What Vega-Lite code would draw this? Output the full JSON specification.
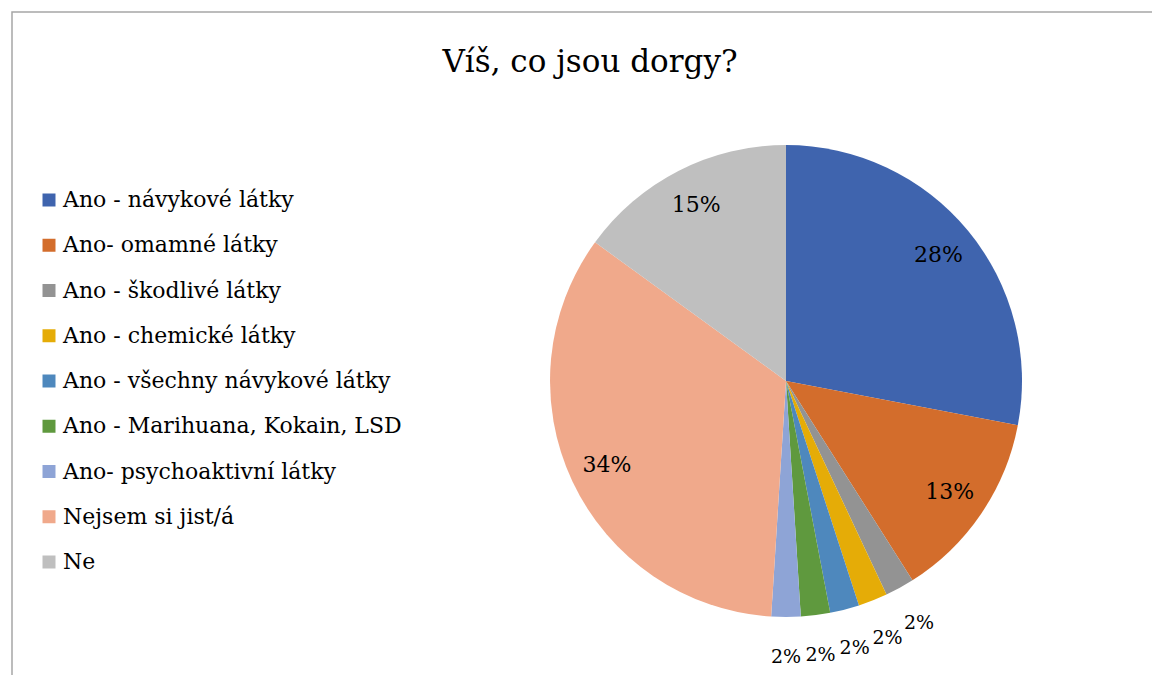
{
  "$schema": "https://vega.github.io/schema/vega-lite/v6.json",
  "autosize": "none",
  "width": 1548,
  "height": 738,
  "padding": {"left": 12, "top": 12, "right": 0, "bottom": 0},
  "background": "white",
  "view": {"stroke": "#A6A6A6", "strokeWidth": 1.5, "fill": "white"},
  "config": {
    "font": "DejaVu Serif"
  },
  "title": {
    "text": "Víš, co jsou dorgy?",
    "font": "DejaVu Serif",
    "fontSize": 31,
    "fontWeight": "normal",
    "color": "#000000",
    "anchor": "middle",
    "frame": "group",
    "dx": -196,
    "dy": 71
  },
  "data": {
    "values": [
      {"idx": 1, "label": "Ano - návykové látky", "value": 28, "pct": "28%"},
      {"idx": 2, "label": "Ano- omamné látky", "value": 13, "pct": "13%"},
      {"idx": 3, "label": "Ano - škodlivé látky", "value": 2, "pct": "2%"},
      {"idx": 4, "label": "Ano - chemické látky", "value": 2, "pct": "2%"},
      {"idx": 5, "label": "Ano - všechny návykové látky", "value": 2, "pct": "2%"},
      {"idx": 6, "label": "Ano - Marihuana, Kokain, LSD", "value": 2, "pct": "2%"},
      {"idx": 7, "label": "Ano- psychoaktivní látky", "value": 2, "pct": "2%"},
      {"idx": 8, "label": "Nejsem si jist/á", "value": 34, "pct": "34%"},
      {"idx": 9, "label": "Ne", "value": 15, "pct": "15%"}
    ]
  },
  "encoding": {
    "theta": {"field": "value", "type": "quantitative", "stack": true},
    "order": {"field": "idx", "type": "quantitative"}
  },
  "layer": [
    {
      "mark": {"type": "arc", "outerRadius": 236},
      "encoding": {
        "color": {
          "field": "label",
          "type": "nominal",
          "scale": {
            "domain": ["Ano - návykové látky", "Ano- omamné látky", "Ano - škodlivé látky", "Ano - chemické látky", "Ano - všechny návykové látky", "Ano - Marihuana, Kokain, LSD", "Ano- psychoaktivní látky", "Nejsem si jist/á", "Ne"],
            "range": ["#3F64AE", "#D36D2C", "#939393", "#E5AC07", "#4E88BD", "#5F993E", "#8EA4D6", "#F0A98B", "#BFBFBF"]
          },
          "legend": {
            "orient": "none",
            "legendX": 26,
            "legendY": 177,
            "title": null,
            "symbolType": "square",
            "symbolSize": 169,
            "symbolStrokeWidth": 0,
            "symbolOpacity": 1,
            "labelFont": "DejaVu Serif",
            "labelFontSize": 22,
            "labelColor": "#000000",
            "labelOffset": 3,
            "labelLimit": 500,
            "rowPadding": 23.25
          }
        }
      }
    },
    {
      "mark": {"type": "text", "radius": 198, "fontSize": 22, "font": "DejaVu Serif", "color": "#000000"},
      "encoding": {
        "text": {"field": "pct", "type": "nominal"},
        "opacity": {"condition": {"test": "datum.value < 10", "value": 0}, "value": 1}
      }
    },
    {
      "mark": {"type": "text", "radius": 276, "fontSize": 19, "font": "DejaVu Serif", "color": "#000000"},
      "encoding": {
        "text": {"field": "pct", "type": "nominal"},
        "opacity": {"condition": {"test": "datum.value < 10", "value": 1}, "value": 0}
      }
    }
  ]
}
